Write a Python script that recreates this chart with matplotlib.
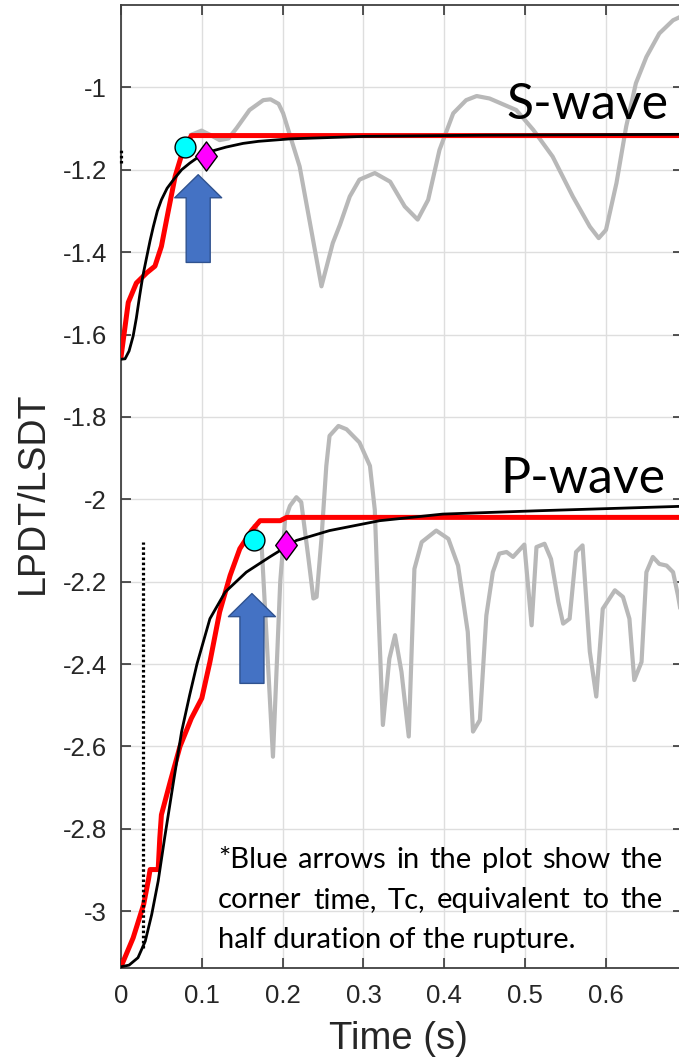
import numpy as np
import matplotlib
matplotlib.use("Agg")
import matplotlib.pyplot as plt
from matplotlib.path import Path
from matplotlib.patches import FancyArrowPatch, ArrowStyle

# ---------------- data ----------------
# S-wave: observed LSDT (grey), stepwise estimate (red), fitted curve (black)
s_raw_t = [0.087, 0.0997, 0.110, 0.122, 0.133, 0.143, 0.159, 0.176, 0.185, 0.195,
           0.2006, 0.221, 0.236, 0.248, 0.262, 0.271, 0.283, 0.295, 0.314, 0.333,
           0.351, 0.367, 0.380, 0.394, 0.411, 0.427, 0.440, 0.456, 0.489, 0.510,
           0.534, 0.559, 0.580, 0.591, 0.600, 0.613, 0.625, 0.637, 0.650, 0.666,
           0.683, 0.695]
s_raw_y = [-1.115, -1.105, -1.115, -1.128, -1.124, -1.099, -1.055, -1.031, -1.029, -1.040,
           -1.063, -1.192, -1.353, -1.483, -1.378, -1.333, -1.265, -1.224, -1.208, -1.229,
           -1.289, -1.321, -1.273, -1.152, -1.063, -1.031, -1.021, -1.027, -1.055, -1.103,
           -1.168, -1.265, -1.338, -1.366, -1.346, -1.232, -1.095, -0.990, -0.926, -0.869,
           -0.837, -0.826]

s_step_t = [0.000, 0.009, 0.019, 0.032, 0.042, 0.050, 0.058, 0.067, 0.075, 0.087, 0.695]
s_step_y = [-1.655, -1.522, -1.475, -1.450, -1.434, -1.386, -1.305, -1.216, -1.164, -1.117, -1.117]

s_fit_t = [0.000, 0.005, 0.010, 0.015, 0.019, 0.023, 0.027, 0.032, 0.036, 0.040, 0.045,
           0.050, 0.057, 0.065, 0.075, 0.085, 0.095, 0.110, 0.130, 0.151, 0.170, 0.209,
           0.300, 0.450, 0.695]
s_fit_y = [-1.660, -1.659, -1.640, -1.604, -1.560, -1.507, -1.458, -1.410, -1.372, -1.338, -1.300,
           -1.273, -1.245, -1.224, -1.200, -1.184, -1.170, -1.156, -1.145, -1.136, -1.131, -1.125,
           -1.119, -1.116, -1.114]

# P-wave: observed LPDT (grey), stepwise estimate (red), fitted curve (black)
p_raw_t = [0.166, 0.174, 0.188, 0.197, 0.203, 0.209, 0.217, 0.223, 0.232, 0.238,
           0.242, 0.248, 0.254, 0.258, 0.269, 0.279, 0.295, 0.308, 0.314, 0.318,
           0.324, 0.332, 0.339, 0.347, 0.356, 0.363, 0.372, 0.390, 0.405, 0.417,
           0.429, 0.4355, 0.444, 0.452, 0.460, 0.468, 0.477, 0.485, 0.499, 0.508,
           0.514, 0.524, 0.532, 0.541, 0.547, 0.555, 0.563, 0.571, 0.580, 0.588,
           0.596, 0.611, 0.621, 0.629, 0.635, 0.644, 0.650, 0.658, 0.666, 0.675,
           0.683, 0.689, 0.695]
p_raw_y = [-2.065, -2.112, -2.625, -2.200, -2.050, -2.016, -1.995, -2.007, -2.145, -2.241,
           -2.237, -2.096, -1.919, -1.846, -1.822, -1.830, -1.862, -1.919, -2.026, -2.245,
           -2.548, -2.387, -2.330, -2.419, -2.576, -2.169, -2.104, -2.076, -2.096, -2.161,
           -2.322, -2.564, -2.536, -2.282, -2.177, -2.132, -2.128, -2.140, -2.110, -2.306,
           -2.116, -2.108, -2.145, -2.249, -2.302, -2.290, -2.128, -2.112, -2.370, -2.479,
           -2.266, -2.221, -2.237, -2.290, -2.439, -2.395, -2.177, -2.140, -2.157, -2.161,
           -2.177, -2.233, -2.300]

p_step_t = [0.000, 0.015, 0.028, 0.034, 0.036, 0.046, 0.048, 0.050, 0.061, 0.073, 0.087,
            0.100, 0.110, 0.122, 0.135, 0.147, 0.1615, 0.172, 0.197, 0.205, 0.695]
p_step_y = [-3.135, -3.065, -2.984, -2.923, -2.899, -2.899, -2.822, -2.766, -2.685, -2.600, -2.532,
            -2.483, -2.395, -2.274, -2.185, -2.120, -2.076, -2.052, -2.052, -2.044, -2.044]

p_fit_t = [0.000, 0.010, 0.021, 0.030, 0.038, 0.046, 0.054, 0.065, 0.075, 0.085, 0.094,
           0.110, 0.129, 0.155, 0.184, 0.217, 0.258, 0.320, 0.398, 0.514, 0.695]
p_fit_y = [-3.135, -3.131, -3.113, -3.073, -3.008, -2.927, -2.822, -2.685, -2.564, -2.475, -2.400,
           -2.290, -2.225, -2.177, -2.140, -2.100, -2.076, -2.052, -2.036, -2.028, -2.017]

# corner-time markers (S, P)
circle_t = [0.079, 0.164]
circle_y = [-1.144, -2.100]
diamond_t = [0.105, 0.204]
diamond_y = [-1.166, -2.111]

# blue arrows: time, tip level, tail level (S, P)
arrow_t = [0.0955, 0.162]
arrow_tip = [-1.212, -2.229]
arrow_tail = [-1.425, -2.447]

# dotted onset markers: time, lower level, upper level
onset_t = [0.0, 0.0276]
onset_lo = [-1.183, -3.090]
onset_hi = [-1.147, -2.103]

x_ticks = [0, 0.1, 0.2, 0.3, 0.4, 0.5, 0.6]
x_labels = ["0", "0.1", "0.2", "0.3", "0.4", "0.5", "0.6"]
y_ticks = [-3, -2.8, -2.6, -2.4, -2.2, -2, -1.8, -1.6, -1.4, -1.2, -1]
y_labels = ["-3", "-2.8", "-2.6", "-2.4", "-2.2", "-2", "-1.8", "-1.6", "-1.4", "-1.2", "-1"]

note_lines = [
    "*Blue arrows in the plot show the",
    "corner time, Tc, equivalent to the",
    "half duration of the rupture.",
]

# ---------------- figure ----------------
W, H = 679, 1063
fig = plt.figure(figsize=(W / 100, H / 100), dpi=100)
L, R, B, T = 121, 683, 968, 5
ax = fig.add_axes([L / W, 1 - B / H, (R - L) / W, (B - T) / H])
ax.set_xlim(0, (R - L) / 808.3)
ax.set_ylim(-3.138, -0.800)

axis_font = "Liberation Sans"
dark = "#262626"

ax.grid(True, color="#dedede", lw=1.0)
ax.set_axisbelow(True)
ax.set_xticks(x_ticks)
ax.set_xticklabels(x_labels, family=axis_font, fontsize=18.5, color=dark)
ax.set_yticks(y_ticks)
ax.set_yticklabels(y_labels, family=axis_font, fontsize=18.5, color=dark)
ax.tick_params(direction="in", length=7, width=1.1, color=dark,
               top=True, right=True)
ax.tick_params(axis="x", pad=11.5)
ax.tick_params(axis="y", pad=10)
for sp in ax.spines.values():
    sp.set_color("#404040")
    sp.set_linewidth(1.3)

ax.set_xlabel("Time (s)", family=axis_font, fontsize=27.5, color=dark)
ax.set_ylabel("LPDT/LSDT", family=axis_font, fontsize=27, color=dark)
ax.xaxis.set_label_coords(0.493, -0.055)
ax.yaxis.set_label_coords(-0.124, 0.494)

grey = "#b8b8b8"
ax.plot(s_raw_t, s_raw_y, color=grey, lw=3.0, zorder=2, solid_joinstyle="round")
ax.plot(p_raw_t, p_raw_y, color=grey, lw=3.0, zorder=2, solid_joinstyle="round")
ax.plot(s_step_t, s_step_y, color="#ff0000", lw=3.6, zorder=3, solid_joinstyle="round")
ax.plot(p_step_t, p_step_y, color="#ff0000", lw=3.6, zorder=3, solid_joinstyle="round")
ax.plot(s_fit_t, s_fit_y, color="black", lw=2.0, zorder=4)
ax.plot(p_fit_t, p_fit_y, color="black", lw=2.0, zorder=4)

for t, lo, hi in zip(onset_t, onset_lo, onset_hi):
    ax.plot([t, t], [lo, hi], color="black", lw=2.3, ls=(0, (0.8, 0.8)),
            zorder=4, clip_on=False)

ax.plot(circle_t, circle_y, ls="none", marker="o", ms=15,
        mfc="#00ffff", mec="black", mew=1.0, zorder=5)
diamond = Path([(0, 0.5), (0.37, 0), (0, -0.5), (-0.37, 0), (0, 0.5)],
               [Path.MOVETO, Path.LINETO, Path.LINETO, Path.LINETO, Path.CLOSEPOLY])
ax.plot(diamond_t, diamond_y, ls="none", marker=diamond, ms=21,
        mfc="#ff00ff", mec="black", mew=1.0, zorder=5)

arrow_style = ArrowStyle("Simple", head_length=1.66, head_width=3.38, tail_width=1.73)
for t, tip, tail in zip(arrow_t, arrow_tip, arrow_tail):
    ax.add_patch(FancyArrowPatch((t, tail), (t, tip), arrowstyle=arrow_style,
                                 mutation_scale=10, fc="#4472c4", ec="#2f528f",
                                 lw=1.0, shrinkA=0, shrinkB=0, zorder=6))

# wave labels
label_font = "Lato"
fig.text(668 / W, 1 - 119 / H, "S-wave", family=label_font, fontsize=36,
         ha="right", va="baseline", color="black", zorder=7)
fig.text(665 / W, 1 - 493 / H, "P-wave", family=label_font, fontsize=36,
         ha="right", va="baseline", color="black", zorder=7)

# justified note in the lower right
fig.canvas.draw()
renderer = fig.canvas.get_renderer()
x0, x1 = 218, 663
baselines = [868, 908, 948]
note_size = 21
for i, (line, yb) in enumerate(zip(note_lines, baselines)):
    words = line.split(" ")
    if i == len(note_lines) - 1:
        fig.text(x0 / W, 1 - yb / H, line, family=label_font, fontsize=note_size,
                 ha="left", va="baseline", color="black", zorder=7)
        continue
    objs = [fig.text(0, 1 - yb / H, w, family=label_font, fontsize=note_size,
                     ha="left", va="baseline", color="black", zorder=7) for w in words]
    widths = [o.get_window_extent(renderer).width for o in objs]
    gap = (x1 - x0 - sum(widths)) / (len(words) - 1)
    x = x0
    for o, w in zip(objs, widths):
        o.set_x(x / W)
        x += w + gap

fig.savefig("out.png", dpi=100)
